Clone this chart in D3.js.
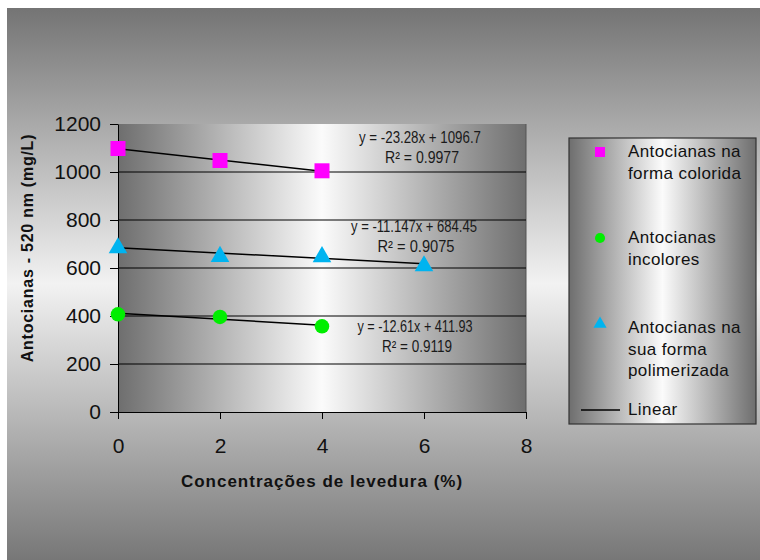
<!DOCTYPE html>
<html>
<head>
<meta charset="utf-8">
<script src="https://cdn.jsdelivr.net/npm/d3@7"></script>
<style>
  body { margin: 0; background: #fff; }
  text { font-family: "Liberation Sans", Arial, sans-serif; }
</style>
</head>
<body>
<div id="viz"></div>
<script>
'use strict';

// data
const concColorida = [0, 2, 4];
const valColorida = [1098, 1048, 1005];
const concIncolores = [0, 2, 4];
const valIncolores = [407, 396, 357];
const concPolimer = [0, 2, 4, 6];
const valPolimer = [688, 652, 651, 613];

// trendlines as printed on the chart
const trendSlope = [-23.28, -12.61, -11.147];
const trendIntercept = [1096.7, 411.93, 684.45];
const trendEq = ['y = -23.28x + 1096.7', 'y = -12.61x + 411.93', 'y = -11.147x + 684.45'];
const trendR2 = ['0.9977', '0.9119', '0.9075'];

const xTicks = [0, 2, 4, 6, 8];
const yTicks = [0, 200, 400, 600, 800, 1000, 1200];
const legendLabels = [
  ['Antocianas na', 'forma colorida'],
  ['Antocianas', 'incolores'],
  ['Antocianas na', 'sua forma', 'polimerizada']
];

const W = 760, H = 560;
const plot = {left: 118, right: 526, top: 124, bottom: 412};

const svg = d3.select('#viz')
  .append('svg')
    .attr('width', W)
    .attr('height', H);

const defs = svg.append('defs');

const bgGrad = defs.append('linearGradient')
  .attr('id', 'bgGrad')
  .attr('x1', 0).attr('y1', 0).attr('x2', 0).attr('y2', 1);
bgGrad.append('stop').attr('offset', 0).attr('stop-color', '#747474');
bgGrad.append('stop').attr('offset', 0.5).attr('stop-color', '#f2f2f2');
bgGrad.append('stop').attr('offset', 1).attr('stop-color', '#777777');

const hGrad = defs.append('linearGradient')
  .attr('id', 'hGrad')
  .attr('x1', 0).attr('y1', 0).attr('x2', 1).attr('y2', 0);
hGrad.append('stop').attr('offset', 0).attr('stop-color', '#6e6e6e');
hGrad.append('stop').attr('offset', 0.5).attr('stop-color', '#fbfbfb');
hGrad.append('stop').attr('offset', 1).attr('stop-color', '#6e6e6e');

// chart background
svg.append('rect')
  .attr('x', 7).attr('y', 8)
  .attr('width', W - 7).attr('height', H - 8)
  .attr('fill', 'url(#bgGrad)');

const x = d3.scaleLinear()
  .domain([0, 8])
  .range([plot.left, plot.right]);

const y = d3.scaleLinear()
  .domain([0, 1200])
  .range([plot.bottom, plot.top]);

// plot area
svg.append('rect')
  .attr('x', plot.left).attr('y', plot.top)
  .attr('width', plot.right - plot.left).attr('height', plot.bottom - plot.top)
  .attr('fill', 'url(#hGrad)');

svg.append('line')
  .attr('x1', plot.right).attr('x2', plot.right)
  .attr('y1', plot.top).attr('y2', plot.bottom)
  .attr('stroke', '#555');

// gridlines
svg.append('g')
  .selectAll('line')
  .data(yTicks.filter(d => d > 0 && d < 1200))
  .join('line')
    .attr('x1', plot.left).attr('x2', plot.right)
    .attr('y1', d => y(d)).attr('y2', d => y(d))
    .attr('stroke', '#000')
    .attr('stroke-width', 1);

// axes
const yAxis = svg.append('g')
  .attr('transform', `translate(${plot.left},0)`)
  .call(d3.axisLeft(y).tickValues(yTicks).tickFormat(d3.format('d'))
    .tickSizeInner(8).tickSizeOuter(0).tickPadding(9));

const xAxis = svg.append('g')
  .attr('transform', `translate(0,${plot.bottom})`)
  .call(d3.axisBottom(x).tickValues(xTicks).tickFormat(d3.format('d'))
    .tickSizeInner(7).tickSizeOuter(0).tickPadding(19));

[yAxis, xAxis].forEach(ax => {
  ax.selectAll('path, line').attr('stroke', '#000');
  ax.selectAll('text')
    .attr('fill', '#111')
    .style('font-family', '"Liberation Sans", Arial, sans-serif')
    .style('font-size', '21px');
});

// trendlines
const seriesX = [concColorida, concIncolores, concPolimer];
seriesX.forEach((xs, i) => {
  const x0 = d3.min(xs), x1 = d3.max(xs);
  svg.append('line')
    .attr('x1', x(x0)).attr('y1', y(trendSlope[i] * x0 + trendIntercept[i]))
    .attr('x2', x(x1)).attr('y2', y(trendSlope[i] * x1 + trendIntercept[i]))
    .attr('stroke', '#000')
    .attr('stroke-width', 1.5);
});

// markers
const sym = (type, size) => d3.symbol().type(type).size(size);

svg.append('g')
  .selectAll('path')
  .data(d3.zip(concColorida, valColorida))
  .join('path')
    .attr('transform', d => `translate(${x(d[0])},${y(d[1])})`)
    .attr('d', sym(d3.symbolSquare, 225))
    .attr('fill', '#ff00ff');

svg.append('g')
  .selectAll('path')
  .data(d3.zip(concIncolores, valIncolores))
  .join('path')
    .attr('transform', d => `translate(${x(d[0])},${y(d[1])})`)
    .attr('d', sym(d3.symbolCircle, 165))
    .attr('fill', '#00ee00');

svg.append('g')
  .selectAll('path')
  .data(d3.zip(concPolimer, valPolimer))
  .join('path')
    .attr('transform', d => `translate(${x(d[0])},${y(d[1]) + 1})`)
    .attr('d', sym(d3.symbolTriangle, 150))
    .attr('fill', '#00b4f0');

// equation labels
const eqPos = [
  {cx: 420, by: 143, w: 122, rw: 74},
  {cx: 415, by: 332, w: 115, rw: 70},
  {cx: 414, by: 232, w: 126, rw: 77}
];
eqPos.forEach((p, i) => {
  svg.append('text')
    .attr('x', p.cx).attr('y', p.by)
    .attr('text-anchor', 'middle')
    .attr('textLength', p.w)
    .attr('lengthAdjust', 'spacingAndGlyphs')
    .attr('fill', '#1a1a1a')
    .style('font-size', '16px')
    .text(trendEq[i]);
  svg.append('text')
    .attr('x', p.cx + 2).attr('y', p.by + 20)
    .attr('text-anchor', 'middle')
    .attr('textLength', p.rw)
    .attr('lengthAdjust', 'spacingAndGlyphs')
    .attr('fill', '#1a1a1a')
    .style('font-size', '16px')
    .text('R² = ' + trendR2[i]);
});

// axis titles
svg.append('text')
  .attr('x', (plot.left + plot.right) / 2).attr('y', 487)
  .attr('text-anchor', 'middle')
  .attr('fill', '#111')
  .style('font-size', '17px')
  .style('font-weight', 'bold')
  .style('letter-spacing', '1px')
  .text('Concentrações de levedura (%)');

svg.append('text')
  .attr('transform', 'translate(33,248) rotate(-90)')
  .attr('text-anchor', 'middle')
  .attr('fill', '#111')
  .style('font-size', '16px')
  .style('font-weight', 'bold')
  .style('letter-spacing', '0.75px')
  .text('Antocianas - 520 nm (mg/L)');

// legend
const legend = svg.append('g');
legend.append('rect')
  .attr('x', 569).attr('y', 138)
  .attr('width', 187).attr('height', 286)
  .attr('fill', 'url(#hGrad)')
  .attr('stroke', '#333')
  .attr('stroke-width', 1.2);

const legMarks = [
  {type: d3.symbolSquare, size: 100, fill: '#ff00ff', my: 152, base: 157},
  {type: d3.symbolCircle, size: 80, fill: '#00ee00', my: 238, base: 243},
  {type: d3.symbolTriangle, size: 75, fill: '#00b4f0', my: 324, base: 333}
];
legMarks.forEach((m, i) => {
  legend.append('path')
    .attr('transform', `translate(600,${m.my})`)
    .attr('d', sym(m.type, m.size))
    .attr('fill', m.fill);
  legendLabels[i].forEach((line, j) => {
    legend.append('text')
      .attr('x', 628).attr('y', m.base + j * 21.5)
      .attr('fill', '#111')
      .style('font-size', '17px')
      .style('letter-spacing', '0.4px')
      .text(line);
  });
});

legend.append('line')
  .attr('x1', 581).attr('x2', 620)
  .attr('y1', 410).attr('y2', 410)
  .attr('stroke', '#000')
  .attr('stroke-width', 1.5);
legend.append('text')
  .attr('x', 628).attr('y', 415)
  .attr('fill', '#111')
  .style('font-size', '17px')
  .style('letter-spacing', '0.4px')
  .text('Linear');
</script>
</body>
</html>
